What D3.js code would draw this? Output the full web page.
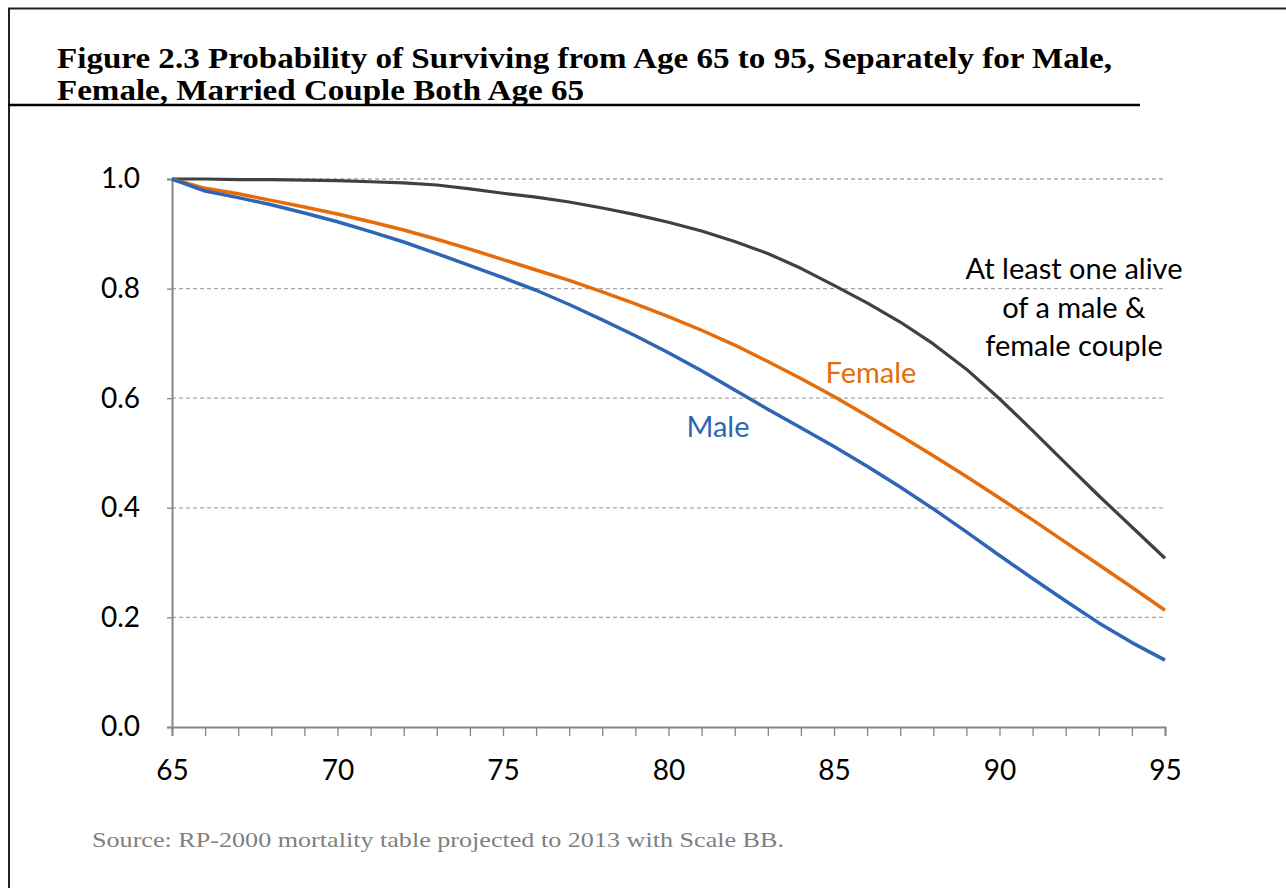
<!DOCTYPE html>
<html><head><meta charset="utf-8">
<script src="https://cdn.jsdelivr.net/npm/d3@7"></script>
<style>body{margin:0;background:#fff;} svg{display:block;}</style>
</head><body>
<svg id="c" width="1286" height="888"></svg>
<script>
const ages = d3.range(65, 96);
const male = [1.0,0.978,0.966,0.953,0.938,0.922,0.904,0.885,0.864,0.842,0.820,0.797,0.771,0.743,0.714,0.683,0.650,0.615,0.580,0.546,0.512,0.476,0.438,0.398,0.356,0.313,0.271,0.230,0.190,0.154,0.122];
const female = [1.0,0.983,0.973,0.961,0.949,0.936,0.922,0.907,0.890,0.872,0.853,0.834,0.815,0.794,0.772,0.749,0.724,0.697,0.667,0.636,0.603,0.568,0.532,0.495,0.457,0.418,0.378,0.337,0.296,0.255,0.213];
const couple = [1.0,1.0,0.999,0.999,0.998,0.997,0.995,0.993,0.989,0.982,0.974,0.967,0.958,0.947,0.935,0.921,0.905,0.886,0.864,0.837,0.806,0.774,0.739,0.699,0.653,0.599,0.541,0.481,0.422,0.365,0.308];
const xTicks = [65,70,75,80,85,90,95];
const yTicks = [0,0.2,0.4,0.6,0.8,1.0];
const titleLines = ["Figure 2.3 Probability of Surviving from Age 65 to 95, Separately for Male,", "Female, Married Couple Both Age 65"];
const sourceText = "Source:  RP-2000 mortality table projected to 2013 with Scale BB.";
const coupleLabel = ["At least one alive", "of a male &", "female couple"];

const svg = d3.select("#c");
const x = d3.scaleLinear().domain([65,95]).range([172,1165]);
const y = d3.scaleLinear().domain([0,1]).range([727,179]);
const sansFont = "Lato, 'Open Sans', sans-serif";
const serifFont = "'Liberation Serif', 'DejaVu Serif', serif";

// frame
svg.append("line").attr("x1",8).attr("x2",1286).attr("y1",8.5).attr("y2",8.5).attr("stroke","#222").attr("stroke-width",2);
svg.append("line").attr("x1",9).attr("x2",9).attr("y1",8).attr("y2",888).attr("stroke","#222").attr("stroke-width",2);

// title
const tl = [{t:titleLines[0], y:68, w:1055},{t:titleLines[1], y:100, w:527}];
tl.forEach(d=>{
  svg.append("text").attr("x",57).attr("y",d.y).text(d.t)
    .attr("font-family",serifFont).attr("font-weight","bold").attr("font-size",30)
    .attr("fill","#000").attr("textLength",d.w).attr("lengthAdjust","spacingAndGlyphs");
});
svg.append("line").attr("x1",8).attr("x2",1140).attr("y1",105).attr("y2",105).attr("stroke","#000").attr("stroke-width",2.5);

// gridlines
svg.append("g").selectAll("line").data(yTicks.filter(v=>v>0)).join("line")
  .attr("x1",x(65)).attr("x2",x(95)).attr("y1",d=>y(d)).attr("y2",d=>y(d))
  .attr("stroke","#a6a6a6").attr("stroke-width",1.3).attr("stroke-dasharray","4,3");

// x axis
const xAxis = d3.axisBottom(x).tickValues(ages).tickSize(9).tickFormat(d=> xTicks.includes(d) ? d : "");
const gx = svg.append("g").attr("transform",`translate(0,${y(0)})`).call(xAxis);
gx.select(".domain").attr("stroke","#868686").attr("stroke-width",2);
gx.selectAll(".tick line").attr("stroke","#868686").attr("stroke-width",1.3);
gx.selectAll(".tick text").attr("font-family",sansFont).attr("font-size",28).attr("fill","#000").attr("dy","0").attr("y",53);

// y axis
const yAxis = d3.axisLeft(y).tickValues(yTicks).tickSize(5).tickPadding(27).tickFormat(d3.format(".1f"));
const gy = svg.append("g").attr("transform",`translate(${x(65)},0)`).call(yAxis);
gy.select(".domain").attr("stroke","#868686").attr("stroke-width",2);
gy.selectAll(".tick line").attr("stroke","#868686").attr("stroke-width",1.3);
gy.selectAll(".tick text").attr("font-family",sansFont).attr("font-size",28).attr("fill","#000");

// lines
const line = d3.line().x((d,i)=>x(ages[i])).y(d=>y(d));
const series = [{v:couple,c:"#404040",w:3.2},{v:female,c:"#E46C0A",w:3.5},{v:male,c:"#2E66B5",w:3.5}];
series.forEach(s=>{
  svg.append("path").datum(s.v).attr("d",line).attr("fill","none").attr("stroke",s.c).attr("stroke-width",s.w).attr("stroke-linejoin","round");
});

// labels
coupleLabel.forEach((t,i)=>{
  svg.append("text").attr("x",1074).attr("y",279+i*38.5).attr("text-anchor","middle").text(t)
    .attr("font-family",sansFont).attr("font-size",29).attr("fill","#000");
});
svg.append("text").attr("x",871).attr("y",383).attr("text-anchor","middle").text("Female")
  .attr("font-family",sansFont).attr("font-size",29).attr("fill","#E46C0A");
svg.append("text").attr("x",718).attr("y",437).attr("text-anchor","middle").text("Male")
  .attr("font-family",sansFont).attr("font-size",29).attr("fill","#2E66B5");

// source
svg.append("text").attr("x",92).attr("y",847).text(sourceText)
  .attr("font-family",serifFont).attr("font-size",21).attr("fill","#808080")
  .attr("textLength",692).attr("lengthAdjust","spacingAndGlyphs");
</script>
</body></html>
